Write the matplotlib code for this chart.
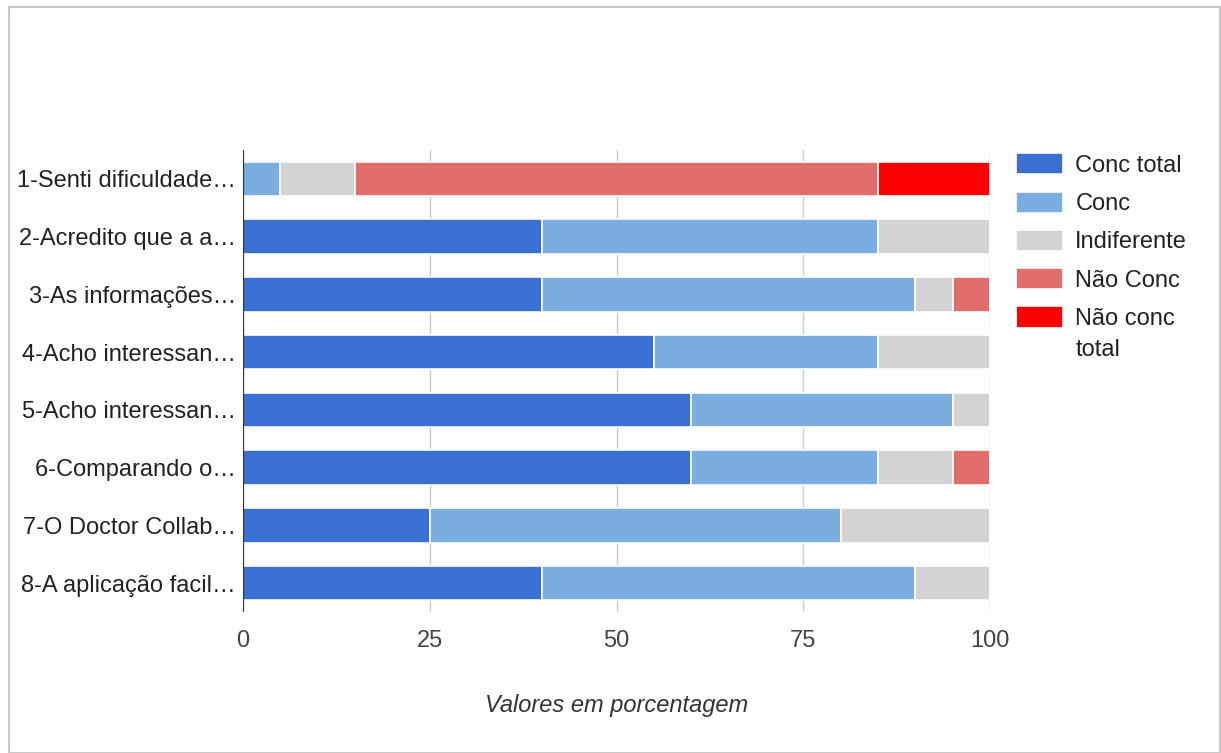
import matplotlib
matplotlib.use("Agg")
import matplotlib.pyplot as plt
from matplotlib.patches import Rectangle
import numpy as np

categories = ["1-Senti dificuldade…", "2-Acredito que a a…", "3-As informações…",
              "4-Acho interessan…", "5-Acho interessan…", "6-Comparando o…",
              "7-O Doctor Collab…", "8-A aplicação facil…"]
series_names = ["Conc total", "Conc", "Indiferente", "Não Conc", "Não conc total"]
conc_total = [0, 40, 40, 55, 60, 60, 25, 40]
conc = [5, 45, 50, 30, 35, 25, 55, 50]
indiferente = [10, 15, 5, 15, 5, 10, 20, 10]
nao_conc = [70, 0, 5, 0, 0, 5, 0, 0]
nao_conc_total = [15, 0, 0, 0, 0, 0, 0, 0]
colors = ["#3a6fd3", "#7aaee0", "#d3d3d3", "#e26d6d", "#ff0000"]
xticks = [0, 25, 50, 75, 100]

plt.rcParams['font.family'] = ['Liberation Sans', 'DejaVu Sans']

W, H = 1221, 753
fig = plt.figure(figsize=(W/100, H/100), dpi=100)
ax = fig.add_axes([243/W, 1-612/H, (990-243)/W, (612-150)/H])

y = np.arange(len(categories))
left = np.zeros(len(categories))
handles = []
for vals, name, c in zip([conc_total, conc, indiferente, nao_conc, nao_conc_total], series_names, colors):
    vals = np.array(vals, dtype=float)
    b = ax.barh(y, vals, left=left, height=0.6, color=c, edgecolor="white", linewidth=1.2, label=name, zorder=3)
    handles.append(b)
    left += vals

ax.set_xlim(0, 100)
ax.set_ylim(len(categories)-0.5, -0.5)
ax.set_yticks(y)
ax.set_yticklabels(categories, fontsize=17, color="#222222")
ax.set_xticks(xticks)
ax.set_xticklabels([str(t) for t in xticks], fontsize=17, color="#444444")
ax.tick_params(axis="y", length=0, pad=5)
ax.tick_params(axis="x", length=0, pad=13)
for s in ax.spines.values():
    s.set_visible(False)
for t in xticks[1:]:
    ax.axvline(t, color="#cccccc", linewidth=1, zorder=1)
ax.axvline(0, color="#333333", linewidth=1.6, zorder=4)
ax.set_xlabel("Valores em porcentagem", fontsize=17, style="italic", color="#333333", labelpad=30)

# legend: last label wraps after its first word pair
leg_labels = series_names[:-1] + ["Não conc"]
leg = fig.legend(handles=handles, labels=leg_labels, loc="upper left",
                 bbox_to_anchor=(995/W, 1-132/H), frameon=False, fontsize=17,
                 handlelength=2.0, handleheight=1.0, labelspacing=0.62, handletextpad=0.5)
for t in leg.get_texts():
    t.set_color("#222222")

fig.canvas.draw()
last = leg.get_texts()[-1]
bb = last.get_window_extent()
fig.text(bb.x0 / W, (bb.y0 - 31) / H, "total", fontsize=17, color="#222222",
         ha="left", va="bottom")

fig.patches.append(Rectangle((9/W, 0.5/H), (W-10)/W, (H-7)/H, transform=fig.transFigure,
                             fill=False, edgecolor="#c8c8c8", linewidth=1.5))
fig.savefig("out.png", dpi=100)
